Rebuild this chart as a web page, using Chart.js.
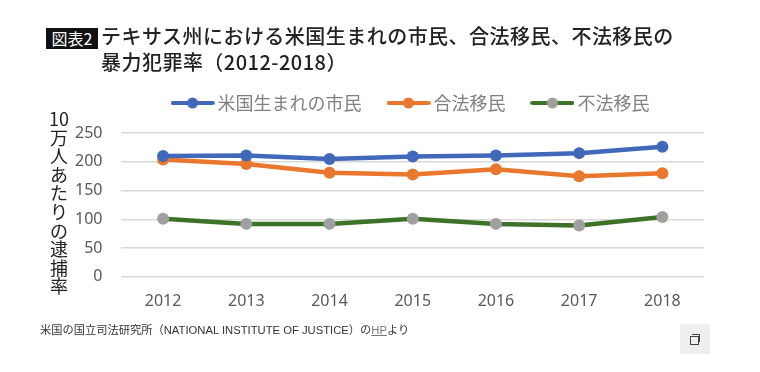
<!DOCTYPE html>
<html lang="ja">
<head>
<meta charset="utf-8">
<script src="https://cdn.jsdelivr.net/npm/chart.js@4/dist/chart.umd.min.js"></script>
<style>
  html, body { margin: 0; padding: 0; background: #fff; overflow: hidden; }
  body { width: 760px; height: 372px; position: relative; font-family: "Noto Sans CJK JP", sans-serif; }
  #chartBox { position: absolute; left: 0; top: 56px; width: 760px; height: 274px; }
  .tag { position: absolute; left: 46px; top: 28px; width: 52px; height: 21px; line-height: 21px; background: #111; color: #fff; font-size: 16px; text-align: center; white-space: nowrap; }
  .title { position: absolute; left: 101px; top: 23px; font-size: 20px; line-height: 26px; letter-spacing: .47px; color: #222; white-space: nowrap; font-weight: 500; }
  .yTitle { position: absolute; left: 40px; top: 109px; width: 38px; text-align: center; font-size: 18px; line-height: 18.6px; color: #222; }
  .source { position: absolute; left: 40px; top: 321px; font-family: "Liberation Sans", "Noto Sans CJK JP", sans-serif; font-size: 11.25px; line-height: 18px; color: #333; white-space: nowrap; }
  .source u { color: #777; }
  .copyBtn { position: absolute; left: 680px; top: 324px; width: 30px; height: 30px; background: #eee; }
  .copyBtn i { position: absolute; display: block; border: 1px solid #444; width: 7px; height: 7px; }
  .copyBtn i.back { left: 12px; top: 10px; border-left: 0; border-bottom: 0; }
  .copyBtn i.front { left: 10px; top: 12px; background: #eee; }
</style>
</head>
<body>
<div id="chartBox"><canvas id="myChart" width="760" height="274"></canvas></div>
<div class="tag">図表2</div>
<div class="title">テキサス州における米国生まれの市民、合法移民、不法移民の<br>暴力犯罪率（2012-2018）</div>
<div class="yTitle" id="yTitle"></div>
<div class="source">米国の国立司法研究所（NATIONAL INSTITUTE OF JUSTICE）の<u>HP</u>より</div>
<div class="copyBtn"><i class="back"></i><i class="front"></i></div>
<script>
const years = ['2012', '2013', '2014', '2015', '2016', '2017', '2018'];
const citizens = [210, 211, 205, 209, 211, 215, 226];
const legalImmigrants = [204, 196, 181, 178, 187, 175, 180];
const illegalImmigrants = [101, 92, 92, 101, 92, 89, 104];
const seriesNames = ['米国生まれの市民', '合法移民', '不法移民'];
const yAxisTitle = ['10', '万', '人', 'あ', 'た', 'り', 'の', '逮', '捕', '率'];

document.getElementById('yTitle').innerHTML = yAxisTitle.join('<br>');

// Legend marker: line with a dot in the middle
function legendMarker(lineColor, dotColor) {
    const c = document.createElement('canvas');
    c.width = 44;
    c.height = 14;
    const g = c.getContext('2d');
    g.strokeStyle = lineColor;
    g.lineWidth = 4;
    g.lineCap = 'round';
    g.beginPath();
    g.moveTo(2, 7);
    g.lineTo(42, 7);
    g.stroke();
    g.fillStyle = dotColor;
    g.beginPath();
    g.arc(22, 7, 5.5, 0, Math.PI * 2);
    g.fill();
    return c;
}

function makeDataset(label, data, lineColor, dotColor) {
    return {
        label: label,
        data: data,
        borderColor: lineColor,
        backgroundColor: dotColor,
        pointBackgroundColor: dotColor,
        pointBorderColor: dotColor,
        borderWidth: 4.5,
        pointRadius: 6,
        pointBorderWidth: 0,
        pointStyle: 'circle',
        tension: 0,
        legendStyle: legendMarker(lineColor, dotColor)
    };
}

new Chart(document.getElementById('myChart'), {
    type: 'line',
    data: {
        labels: years,
        datasets: [
            makeDataset(seriesNames[0], citizens, '#4168b9', '#4168b9'),
            makeDataset(seriesNames[1], legalImmigrants, '#e9772d', '#e9772d'),
            makeDataset(seriesNames[2], illegalImmigrants, '#3d7229', '#a0a0a0')
        ]
    },
    options: {
        responsive: false,
        animation: false,
        layout: { padding: { left: 56, right: 56, top: 7, bottom: 12 } },
        plugins: {
            legend: {
                labels: {
                    usePointStyle: true,
                    pointStyleWidth: 32,
                    color: '#7f7f7f',
                    font: { family: '"Noto Sans CJK JP"', size: 18 },
                    padding: 31,
                    generateLabels: (chart) => chart.data.datasets.map((d, i) => ({
                        text: d.label,
                        pointStyle: d.legendStyle,
                        fontColor: '#7f7f7f',
                        datasetIndex: i
                    }))
                }
            },
            tooltip: { enabled: false }
        },
        scales: {
            x: {
                offset: true,
                grid: { display: false },
                border: { display: false },
                ticks: { color: '#595959', font: { family: '"Noto Sans"', size: 16 }, padding: 7 }
            },
            y: {
                min: 0,
                max: 250,
                ticks: { stepSize: 50, color: '#595959', font: { family: '"Noto Sans"', size: 16 }, padding: 19 },
                grid: { color: '#d9d9d9', lineWidth: 1.5, drawTicks: false },
                border: { display: false }
            }
        }
    },
    plugins: [{
        id: 'legendPlacement',
        // extra room between the legend and the plot
        beforeLayout(chart) {
            if (chart.legend.fitWrapped) return;
            const fit = chart.legend.fit;
            chart.legend.fit = function () {
                fit.call(this);
                this.height += 11;
            };
            chart.legend.fitWrapped = true;
        },
        // the legend sits over the plot, not over the whole canvas
        afterLayout(chart) {
            chart.legend.left += 33;
            chart.legend.right += 33;
        }
    }]
});
</script>
</body>
</html>
